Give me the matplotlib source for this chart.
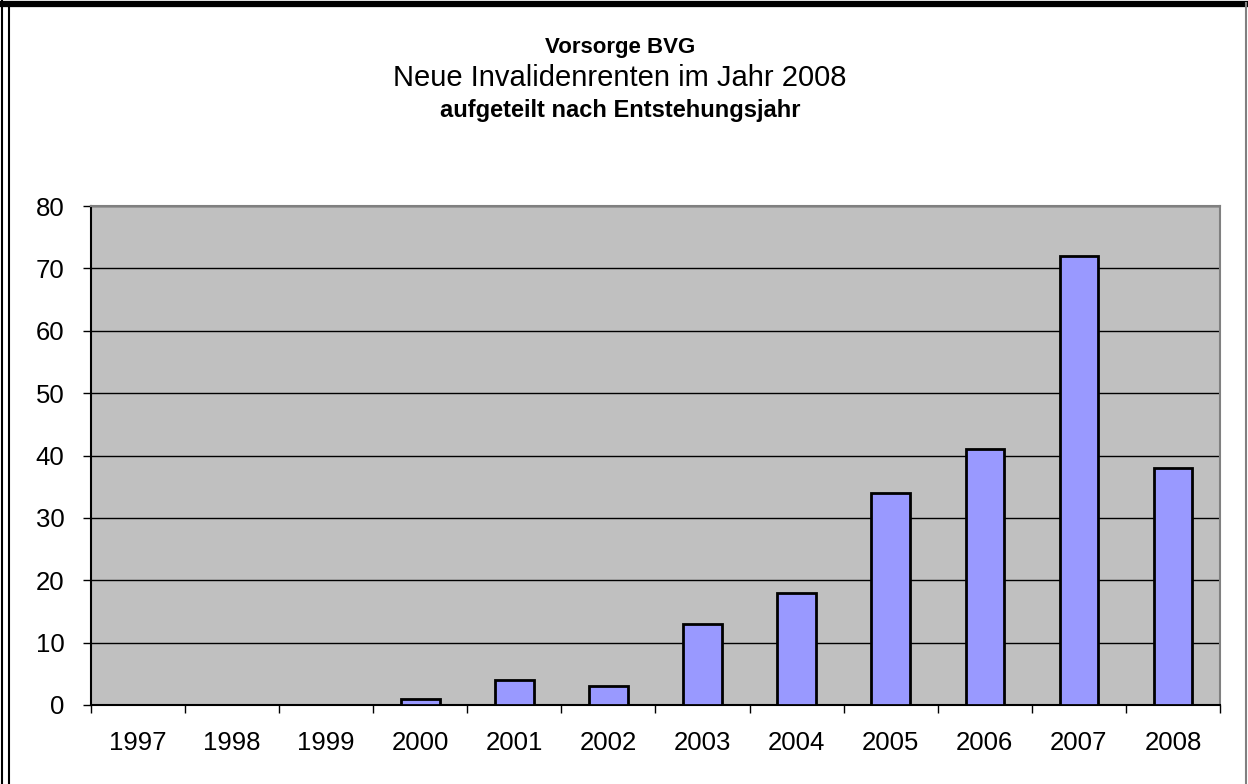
import matplotlib
matplotlib.use("Agg")
import matplotlib.pyplot as plt
from matplotlib.lines import Line2D
import numpy as np

years = ["1997", "1998", "1999", "2000", "2001", "2002", "2003", "2004", "2005", "2006", "2007", "2008"]
values = [0, 0, 0, 1, 4, 3, 13, 18, 34, 41, 72, 38]
yticks = [0, 10, 20, 30, 40, 50, 60, 70, 80]

plt.rcParams['font.family'] = ['Liberation Sans', 'DejaVu Sans']

W, H = 1248, 784
fig = plt.figure(figsize=(W / 100, H / 100), dpi=100)
fig.patch.set_facecolor('white')

l, r, t, b = 91, 1220, 206, 705
ax = fig.add_axes([l / W, 1 - b / H, (r - l) / W, (b - t) / H])
ax.set_facecolor('#C0C0C0')

x = np.arange(len(years))
ax.bar(x, values, width=0.41, color='#9999FF', edgecolor='black', linewidth=2, zorder=3)

ax.set_xlim(-0.5, len(years) - 0.5)
ax.set_ylim(0, 80)
ax.set_yticks(yticks)
ax.set_yticklabels([str(v) for v in yticks], fontsize=18.5)
ax.yaxis.grid(True, color='black', linewidth=1)
ax.set_axisbelow(True)

ax.set_xticks(np.arange(len(years) + 1) - 0.5)
ax.set_xticklabels([])
ax.set_xticks(x, minor=True)
ax.set_xticklabels(years, minor=True, fontsize=18.5)
ax.tick_params(axis='x', which='major', direction='out', length=6, width=1, color='black')
ax.tick_params(axis='x', which='minor', length=0, pad=19)
ax.tick_params(axis='y', direction='out', length=6, width=1, color='black', pad=13)

for s in ['left', 'bottom']:
    ax.spines[s].set_color('black')
    ax.spines[s].set_linewidth(1.5)
for s in ['top', 'right']:
    ax.spines[s].set_color('#808080')
    ax.spines[s].set_linewidth(1.5)

cx = 620 / W
fig.text(cx, 1 - 48 / H, "Vorsorge BVG", ha='center', va='center', fontsize=16, fontweight='bold')
fig.text(cx, 1 - 78 / H, "Neue Invalidenrenten im Jahr 2008", ha='center', va='center', fontsize=21)
fig.text(cx, 1 - 110 / H, "aufgeteilt nach Entstehungsjahr", ha='center', va='center', fontsize=17, fontweight='bold')

# frame borders
fig.add_artist(Line2D([0, 1], [1 - 3.5 / H, 1 - 3.5 / H], transform=fig.transFigure, color='black', linewidth=4.5))
fig.add_artist(Line2D([2 / W, 2 / W], [0, 1], transform=fig.transFigure, color='black', linewidth=1.5))
fig.add_artist(Line2D([9 / W, 9 / W], [0, 1 - 3 / H], transform=fig.transFigure, color='black', linewidth=1.5))
fig.add_artist(Line2D([1246 / W, 1246 / W], [0, 1 - 3 / H], transform=fig.transFigure, color='#808080', linewidth=1.5))

fig.savefig('out.png', dpi=100)
